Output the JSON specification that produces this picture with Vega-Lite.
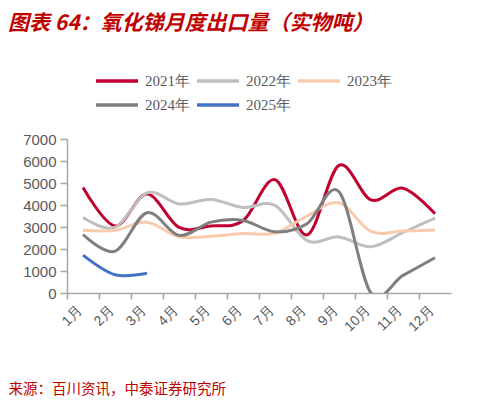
{
  "$schema": "https://vega.github.io/schema/vega-lite/v6.json",
  "width": 384,
  "height": 154,
  "autosize": "none",
  "padding": {"left": 67, "top": 139, "right": 37, "bottom": 107},
  "background": "white",
  "title": {
    "text": "图表 64：氧化锑月度出口量（实物吨）",
    "anchor": "start",
    "frame": "group",
    "dx": -59,
    "offset": 38,
    "font": "Noto Sans CJK SC",
    "fontSize": 21,
    "fontWeight": "bold",
    "fontStyle": "italic",
    "color": "#C00000"
  },
  "data": {
    "values": [
      {"month": "1月", "year": "2021年", "value": 4800},
      {"month": "2月", "year": "2021年", "value": 3050},
      {"month": "3月", "year": "2021年", "value": 4500},
      {"month": "4月", "year": "2021年", "value": 2980},
      {"month": "5月", "year": "2021年", "value": 3050},
      {"month": "6月", "year": "2021年", "value": 3280},
      {"month": "7月", "year": "2021年", "value": 5150},
      {"month": "8月", "year": "2021年", "value": 2640},
      {"month": "9月", "year": "2021年", "value": 5800},
      {"month": "10月", "year": "2021年", "value": 4230},
      {"month": "11月", "year": "2021年", "value": 4760},
      {"month": "12月", "year": "2021年", "value": 3600},
      {"month": "1月", "year": "2022年", "value": 3430},
      {"month": "2月", "year": "2022年", "value": 2980},
      {"month": "3月", "year": "2022年", "value": 4550},
      {"month": "4月", "year": "2022年", "value": 4050},
      {"month": "5月", "year": "2022年", "value": 4250},
      {"month": "6月", "year": "2022年", "value": 3890},
      {"month": "7月", "year": "2022年", "value": 3980},
      {"month": "8月", "year": "2022年", "value": 2380},
      {"month": "9月", "year": "2022年", "value": 2550},
      {"month": "10月", "year": "2022年", "value": 2100},
      {"month": "11月", "year": "2022年", "value": 2750},
      {"month": "12月", "year": "2022年", "value": 3400},
      {"month": "1月", "year": "2023年", "value": 2850},
      {"month": "2月", "year": "2023年", "value": 2850},
      {"month": "3月", "year": "2023年", "value": 3220},
      {"month": "4月", "year": "2023年", "value": 2550},
      {"month": "5月", "year": "2023年", "value": 2580},
      {"month": "6月", "year": "2023年", "value": 2700},
      {"month": "7月", "year": "2023年", "value": 2720},
      {"month": "8月", "year": "2023年", "value": 3500},
      {"month": "9月", "year": "2023年", "value": 4100},
      {"month": "10月", "year": "2023年", "value": 2800},
      {"month": "11月", "year": "2023年", "value": 2820},
      {"month": "12月", "year": "2023年", "value": 2860},
      {"month": "1月", "year": "2024年", "value": 2660},
      {"month": "2月", "year": "2024年", "value": 1900},
      {"month": "3月", "year": "2024年", "value": 3650},
      {"month": "4月", "year": "2024年", "value": 2620},
      {"month": "5月", "year": "2024年", "value": 3220},
      {"month": "6月", "year": "2024年", "value": 3300},
      {"month": "7月", "year": "2024年", "value": 2780},
      {"month": "8月", "year": "2024年", "value": 3150},
      {"month": "9月", "year": "2024年", "value": 4600},
      {"month": "10月", "year": "2024年", "value": 0},
      {"month": "11月", "year": "2024年", "value": 800},
      {"month": "12月", "year": "2024年", "value": 1600},
      {"month": "1月", "year": "2025年", "value": 1720},
      {"month": "2月", "year": "2025年", "value": 830},
      {"month": "3月", "year": "2025年", "value": 900}
    ]
  },
  "mark": {"type": "line", "interpolate": "cardinal", "strokeWidth": 3, "clip": true},
  "encoding": {
    "x": {
      "field": "month",
      "type": "ordinal",
      "sort": ["1月", "2月", "3月", "4月", "5月", "6月", "7月", "8月", "9月", "10月", "11月", "12月"],
      "scale": {"type": "band", "paddingInner": 0, "paddingOuter": 0},
      "axis": {
        "title": "来源：百川资讯，中泰证券研究所",
        "titleColor": "#C00000",
        "titleFont": "Noto Sans CJK SC",
        "titleFontSize": 14.5,
        "titleFontWeight": "normal",
        "titleX": -59,
        "titleY": 100,
        "titleAlign": "left",
        "titleAnchor": null,
        "titleBaseline": "alphabetic",
        "bandPosition": 0,
        "labelOffset": -3,
        "labelAngle": -45,
        "labelAlign": "right",
        "labelBaseline": "middle",
        "labelFont": "Liberation Sans",
        "labelFontSize": 14,
        "labelColor": "#595959",
        "labelPadding": 9,
        "domainColor": "#A6A6A6",
        "domainWidth": 1.5,
        "tickColor": "#A6A6A6",
        "tickWidth": 1.5,
        "tickSize": 6,
        "grid": false
      }
    },
    "y": {
      "field": "value",
      "type": "quantitative",
      "scale": {"domain": [0, 7000], "nice": false, "zero": true},
      "axis": {
        "title": null,
        "values": [0, 1000, 2000, 3000, 4000, 5000, 6000, 7000],
        "format": "d",
        "labelFont": "Liberation Sans",
        "labelFontSize": 15,
        "labelColor": "#595959",
        "labelPadding": 4,
        "domainColor": "#A6A6A6",
        "domainWidth": 1.5,
        "tickColor": "#A6A6A6",
        "tickWidth": 1.5,
        "tickSize": 7,
        "grid": false
      }
    },
    "color": {
      "field": "year",
      "type": "nominal",
      "scale": {
        "domain": ["2021年", "2022年", "2023年", "2024年", "2025年"],
        "range": ["#C00030", "#BFBFBF", "#F8CBAD", "#7F7F7F", "#4472C4"]
      },
      "legend": {
        "title": null,
        "orient": "none",
        "direction": "horizontal",
        "legendX": 27,
        "legendY": -67,
        "columns": 3,
        "columnPadding": 0,
        "rowPadding": 7,
        "symbolType": "M-1,0H5",
        "symbolSize": 196,
        "symbolStrokeWidth": 3.5,
        "labelFont": "Liberation Serif",
        "labelFontSize": 15,
        "labelColor": "#595959",
        "labelOffset": 33
      }
    }
  },
  "config": {
    "view": {"stroke": null}
  }
}
